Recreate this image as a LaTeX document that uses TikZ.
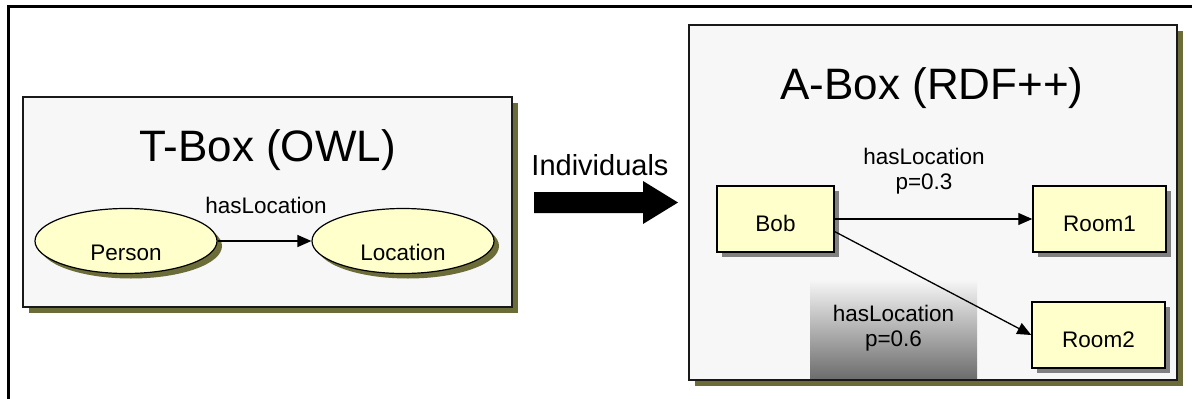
\documentclass[tikz,border=0pt]{standalone}
\usepackage{fontspec}
\setmainfont{Liberation Sans}
\usetikzlibrary{arrows.meta,shapes.geometric,shadows}
\definecolor{panelfill}{HTML}{F7F7F7}
\definecolor{notefill}{HTML}{FFFFCC}
\definecolor{olivesh}{RGB}{108,108,56}
\definecolor{greysh}{HTML}{808080}
\begin{document}
\begin{tikzpicture}[x=1pt,y=-1pt,
  panel/.style={rectangle,draw=black!90,line width=2pt,fill=panelfill,inner sep=0pt,
     drop shadow={shadow xshift=6pt,shadow yshift=-6pt,fill=olivesh,opacity=1}},
  classnode/.style={ellipse,draw,line width=1.2pt,fill=notefill,minimum width=182pt,
     minimum height=65pt,inner sep=0pt,text height=38pt,text depth=0pt,small,
     drop shadow={shadow xshift=5pt,shadow yshift=-5pt,fill=olivesh,opacity=1}},
  instnode/.style={rectangle,draw,line width=1.5pt,fill=notefill,minimum height=66pt,
     inner sep=0pt,text height=24pt,text depth=0pt,small,
     drop shadow={shadow xshift=5pt,shadow yshift=-5pt,fill=greysh,opacity=1}},
  small/.style={font=\fontsize{22.5}{25}\selectfont},
  title/.style={font=\fontsize{44}{50}\selectfont,inner sep=0pt},
  rel/.style={line width=1.3pt,-{Triangle[length=14pt,width=12pt]}},
  plabel/.style={small,align=center,inner sep=0pt}
]
\useasboundingbox (0,0) rectangle (1192,399);

% outer frame (top and left edges)
\draw[line width=3pt] (8,399) -- (8,6) -- (1192,6);

% terminology box
\node[panel,minimum width=489pt,minimum height=210pt] (tbox) at (267.5,202) {};
\node[title] (tboxtitle) at (267.5,150) {T-Box (OWL)};
\node[classnode] (person) at (126,241) {Person};
\node[classnode] (location) at (403,241) {Location};
\draw[rel] (person.east) -- (location.west);
\node[plabel] (tlabel) at (266,205) {hasLocation};

% populating arrow
\node[font=\fontsize{29}{33}\selectfont,inner sep=0pt] (indiv) at (600,165) {Individuals};
\fill (534,192) -- (643,192) -- (643,181) -- (678,202.5) -- (643,224) -- (643,213) -- (534,213) -- cycle;

% assertion box
\node[panel,minimum width=488pt,minimum height=355pt] (abox) at (933,202.5) {};
\node[title] (aboxtitle) at (932,88) {A-Box (RDF++)};
\node[plabel,top color=white!97!black,bottom color=black!57,
      minimum width=167pt,minimum height=99pt] (p2) at (893.5,328.5) {hasLocation\\p=0.6};
\node[instnode,minimum width=117pt] (bob) at (775.5,219) {Bob};
\node[instnode,minimum width=133pt] (room1) at (1099.5,219) {Room1};
\node[instnode,minimum width=133pt] (room2) at (1098.5,335) {Room2};
\draw[rel] (bob.east) -- (room1.west);
\draw[rel] (bob.-12.5) -- (room2.west);
\node[plabel] (p1) at (924,171) {hasLocation\\p=0.3};
\end{tikzpicture}
\end{document}
